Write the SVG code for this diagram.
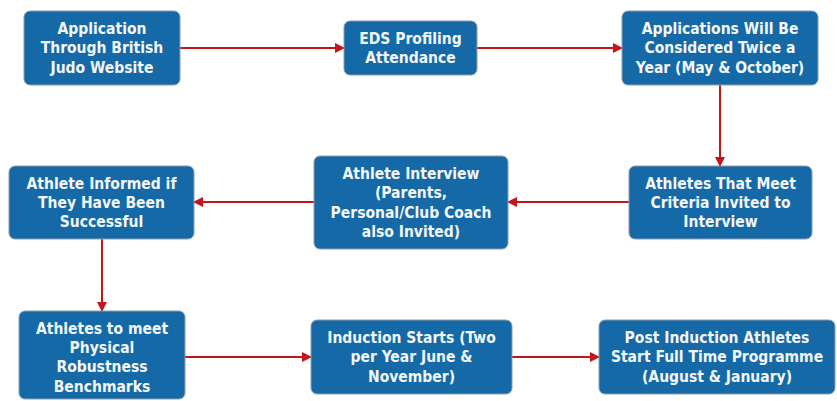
<svg xmlns="http://www.w3.org/2000/svg" width="837" height="401" viewBox="0 0 837 401">
<defs>
<marker id="ah" markerWidth="10" markerHeight="10" refX="9" refY="5" orient="auto" markerUnits="userSpaceOnUse">
<path d="M0,0 L10,5 L0,10 Z" fill="#C0161C"/>
</marker>
<style>
.box{fill:#1569A6;stroke:#8E9DAE;stroke-width:1}
.t{font-family:"DejaVu Sans Condensed","DejaVu Sans",sans-serif;font-weight:bold;font-size:15.5px;fill:#F4F7FA;text-anchor:middle}
.c{stroke:#C0161C;stroke-width:2;fill:none;marker-end:url(#ah)}
</style>
</defs>
<rect width="837" height="401" fill="#FFFFFF"/>
<g id="connectors">
<line class="c" x1="180" y1="48" x2="344" y2="48"/>
<line class="c" x1="477" y1="48" x2="622" y2="48"/>
<line class="c" x1="720" y1="85" x2="720" y2="166"/>
<line class="c" x1="629" y1="202" x2="508" y2="202"/>
<line class="c" x1="314" y1="202" x2="194" y2="202"/>
<line class="c" x1="102" y1="239" x2="102" y2="311"/>
<line class="c" x1="185" y1="357" x2="311" y2="357"/>
<line class="c" x1="512" y1="357" x2="599" y2="357"/>
</g>
<g id="n1">
<rect class="box" x="24" y="11" width="156" height="74" rx="6"/>
<text class="t" x="102" y="33.5">Application</text>
<text class="t" x="102" y="53">Through British</text>
<text class="t" x="102" y="72.5">Judo Website</text>
</g>
<g id="n2">
<rect class="box" x="344" y="21" width="133" height="54" rx="6"/>
<text class="t" x="410.5" y="43.5">EDS Profiling</text>
<text class="t" x="410.5" y="62.5">Attendance</text>
</g>
<g id="n3">
<rect class="box" x="622" y="11" width="196" height="74" rx="6"/>
<text class="t" x="720" y="33.5">Applications Will Be</text>
<text class="t" x="720" y="53">Considered Twice a</text>
<text class="t" x="720" y="72.5">Year (May &amp; October)</text>
</g>
<g id="n4">
<rect class="box" x="629" y="166" width="183" height="73" rx="6"/>
<text class="t" x="720.5" y="188.5">Athletes That Meet</text>
<text class="t" x="720.5" y="207.5">Criteria Invited to</text>
<text class="t" x="720.5" y="226.5">Interview</text>
</g>
<g id="n5">
<rect class="box" x="314" y="156" width="194" height="93" rx="6"/>
<text class="t" x="411" y="178.5">Athlete Interview</text>
<text class="t" x="411" y="198">(Parents,</text>
<text class="t" x="411" y="217.5">Personal/Club Coach</text>
<text class="t" x="411" y="236.5">also Invited)</text>
</g>
<g id="n6">
<rect class="box" x="9" y="166" width="185" height="73" rx="6"/>
<text class="t" x="101.5" y="188.5">Athlete Informed if</text>
<text class="t" x="101.5" y="207.5">They Have Been</text>
<text class="t" x="101.5" y="226.5">Successful</text>
</g>
<g id="n7">
<rect class="box" x="19" y="311" width="166" height="88" rx="6"/>
<text class="t" x="102" y="333.5">Athletes to meet</text>
<text class="t" x="102" y="352.5">Physical</text>
<text class="t" x="102" y="372">Robustness</text>
<text class="t" x="102" y="391.5">Benchmarks</text>
</g>
<g id="n8">
<rect class="box" x="311" y="320" width="201" height="74" rx="6"/>
<text class="t" x="411.5" y="342.5">Induction Starts (Two</text>
<text class="t" x="411.5" y="362">per Year June &amp;</text>
<text class="t" x="411.5" y="381.5">November)</text>
</g>
<g id="n9">
<rect class="box" x="599" y="320" width="236" height="74" rx="6"/>
<text class="t" x="717" y="342.5">Post Induction Athletes</text>
<text class="t" x="717" y="362">Start Full Time Programme</text>
<text class="t" x="717" y="381.5">(August &amp; January)</text>
</g>
</svg>
